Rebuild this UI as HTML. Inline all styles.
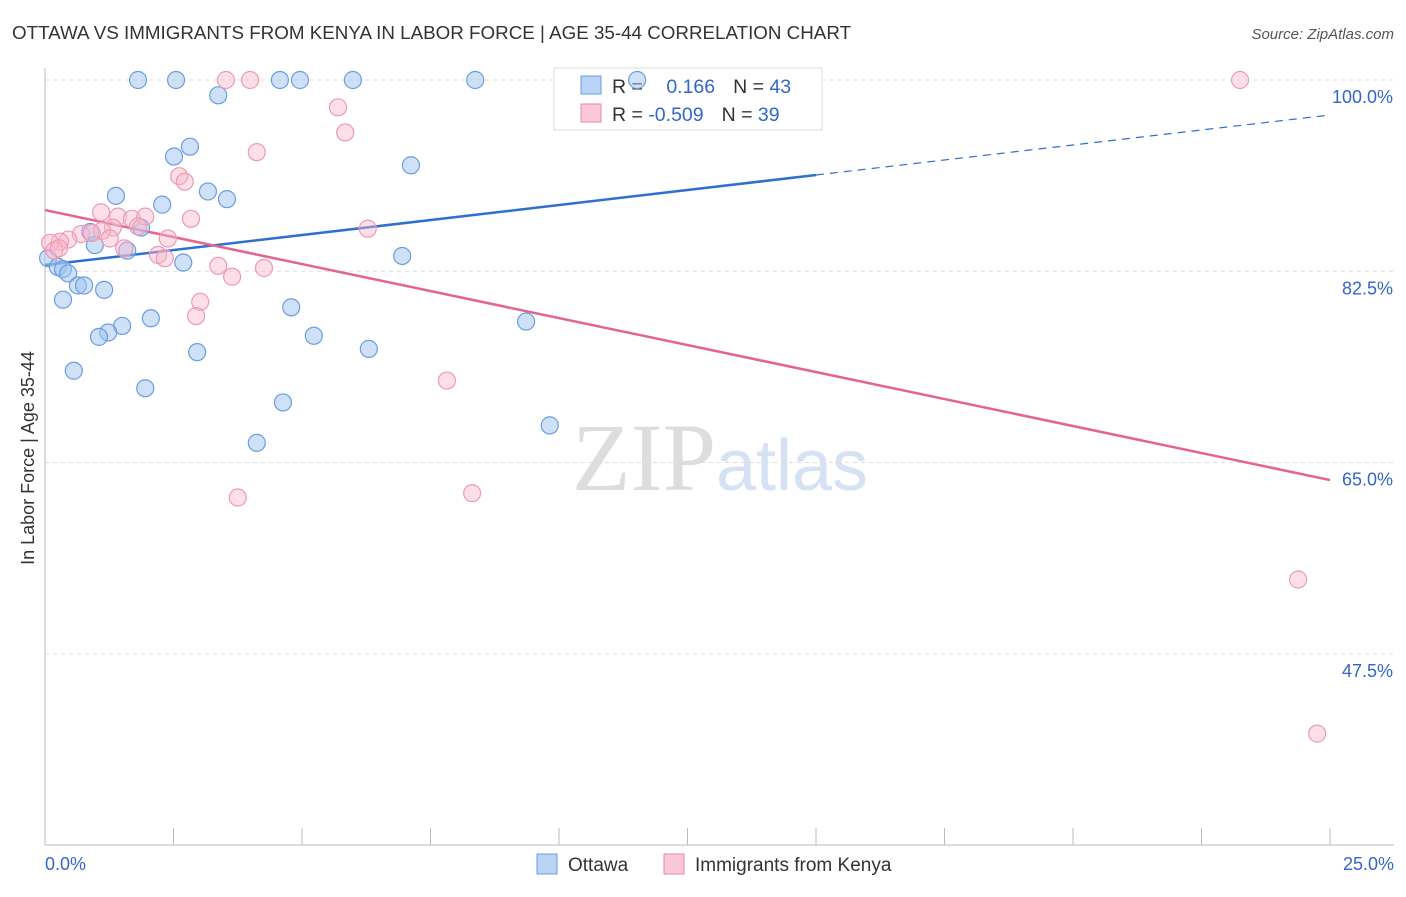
<!DOCTYPE html>
<html><head><meta charset="utf-8"><style>
body{margin:0;background:#fff;font-family:"Liberation Sans",sans-serif;}
svg text{font-family:"Liberation Sans",sans-serif;}
</style></head><body>
<svg id="chart" width="1406" height="892" xmlns="http://www.w3.org/2000/svg">
<text x="12" y="39" font-size="18.8" fill="#333">OTTAWA VS IMMIGRANTS FROM KENYA IN LABOR FORCE | AGE 35-44 CORRELATION CHART</text>
<text x="1394" y="39" font-size="15" fill="#555" text-anchor="end" font-style="italic">Source: ZipAtlas.com</text>
<text x="720" y="490" font-size="96" text-anchor="middle"><tspan fill="#ddd" font-family="Liberation Serif">ZIP</tspan><tspan fill="#d6e2f3" font-size="72">atlas</tspan></text>
<g id="grid"></g>
<g id="axes"></g>
<g>
<rect x="554" y="68" width="268" height="62" fill="#fff" stroke="#ddd"/>
<rect x="581" y="76" width="20" height="18" fill="#b9d3f5" stroke="#6a9de0"/>
<rect x="581" y="104" width="20" height="18" fill="#fac8d6" stroke="#e88aa8"/>
<text x="612" y="93" font-size="19.5" fill="#333">R = <tspan fill="#3366cc" dx="18">0.166</tspan><tspan dx="18">N = </tspan><tspan fill="#3366cc">43</tspan></text>
<text x="612" y="121" font-size="19.5" fill="#333">R = <tspan fill="#3366cc">-0.509</tspan><tspan dx="18">N = </tspan><tspan fill="#3366cc">39</tspan></text>
</g>
<g id="lines"></g>
<g id="pts"></g>
<text transform="translate(34,458) rotate(-90)" font-size="18" fill="#333" text-anchor="middle">In Labor Force | Age 35-44</text>
<g>
<rect x="537" y="854" width="20" height="20" fill="#b9d3f5" stroke="#6a9de0"/>
<text x="568" y="871" font-size="19" fill="#333">Ottawa</text>
<rect x="664" y="854" width="20" height="20" fill="#fac8d6" stroke="#e88aa8"/>
<text x="695" y="871" font-size="19" fill="#333">Immigrants from Kenya</text>
</g>
</svg>
<script>
const yTicks=[100,82.5,65,47.5];
const yTickLabels=["100.0%","82.5%","65.0%","47.5%"];
const xLabels=["0.0%","25.0%"];
const blueX=[1.81,2.55,4.57,4.96,5.99,8.37,11.52,3.37,2.82,2.51,7.12,1.38,3.17,3.54,2.28,1.87,0.88,0.97,1.60,2.69,6.95,0.06,0.25,0.35,0.45,0.64,0.76,1.15,0.35,4.79,2.06,1.50,1.23,1.05,5.23,9.36,2.96,6.30,0.56,1.95,4.63,9.82,4.12];
const blueY=[100,100,100,100,100,100,100,98.6,93.9,93.0,92.2,89.4,89.8,89.1,88.6,86.5,86.1,84.9,84.4,83.3,83.9,83.7,82.9,82.7,82.3,81.2,81.2,80.8,79.9,79.2,78.2,77.5,76.9,76.5,76.6,77.9,75.1,75.4,73.4,71.8,70.5,68.4,66.8];
const pinkX=[3.52,3.99,23.25,5.70,5.84,4.12,2.61,2.72,1.09,1.42,1.69,1.95,2.84,1.81,1.32,1.11,0.70,0.91,6.28,2.39,0.45,0.29,0.10,0.18,1.54,2.20,2.33,3.37,4.26,3.64,3.02,2.94,7.82,3.75,8.31,24.38,24.75,0.27,1.26];
const pinkY=[100,100,100,97.5,95.2,93.4,91.2,90.7,87.9,87.5,87.3,87.5,87.3,86.6,86.5,86.2,85.9,86.0,86.4,85.5,85.4,85.2,85.1,84.4,84.6,84.0,83.7,83.0,82.8,82.0,79.7,78.4,72.5,61.8,62.2,54.3,40.2,84.6,85.5];
const blueLine=[0,83.07,25,96.8];
const pinkLine=[0,88.1,25,63.4];
const blueSolidEnd=15;
const NS="http://www.w3.org/2000/svg";
const X=v=>45+v*(1285/25);
const Y=v=>80+(100-v)*10.93;
function mk(p,tag,a){const e=document.createElementNS(NS,tag);for(const k in a)e.setAttribute(k,a[k]);document.getElementById(p).appendChild(e);return e;}
yTicks.forEach((t,i)=>{
 const g=mk('grid','line',{x1:45,x2:1394,y1:Y(t),y2:Y(t),stroke:'#ddd','stroke-dasharray':'4,4'});
 
 
 const l=mk('axes','text',{x:1393,y:Y(t)+23,'font-size':18,fill:'#3366cc','text-anchor':'end'});
 l.textContent=yTickLabels[i];
 
 
});
mk('axes','line',{x1:45,x2:45,y1:68,y2:845,stroke:'#bbb'});
mk('axes','line',{x1:45,x2:1394,y1:845,y2:845,stroke:'#bbb'});
for(let i=0;i<=10;i++){const t=mk('axes','line',{x1:X(i*2.5),x2:X(i*2.5),y1:828,y2:845,stroke:'#bbb'});
 
 }
const xl0=mk('axes','text',{x:45,y:870,'font-size':18,fill:'#3366cc'});xl0.textContent=xLabels[0];


const xl1=mk('axes','text',{x:1394,y:870,'font-size':18,fill:'#3366cc','text-anchor':'end'});xl1.textContent=xLabels[1];


blueX.forEach((x,i)=>{const c=mk('pts','circle',{cx:X(x),cy:Y(blueY[i]),r:8.5,fill:'rgba(160,195,240,0.5)',stroke:'#6a9de0','stroke-width':1.2});
 
 });
pinkX.forEach((x,i)=>{const c=mk('pts','circle',{cx:X(x),cy:Y(pinkY[i]),r:8.5,fill:'rgba(248,185,205,0.45)',stroke:'#ec9ab5','stroke-width':1.2});
 
 });
const by=x=>blueLine[1]+(blueLine[3]-blueLine[1])*(x-blueLine[0])/(blueLine[2]-blueLine[0]);
const b1=mk('lines','line',{x1:X(blueLine[0]),y1:Y(blueLine[1]),x2:X(blueSolidEnd),y2:Y(by(blueSolidEnd)),stroke:'#2f6fd0','stroke-width':2.5});


const b2=mk('lines','line',{x1:X(blueSolidEnd),y1:Y(by(blueSolidEnd)),x2:X(blueLine[2]),y2:Y(blueLine[3]),stroke:'#2f6fd0','stroke-width':1.2,'stroke-dasharray':'8,6'});


const p1=mk('lines','line',{x1:X(pinkLine[0]),y1:Y(pinkLine[1]),x2:X(pinkLine[2]),y2:Y(pinkLine[3]),stroke:'#e4638f','stroke-width':2.5});


</script>
</body></html>
